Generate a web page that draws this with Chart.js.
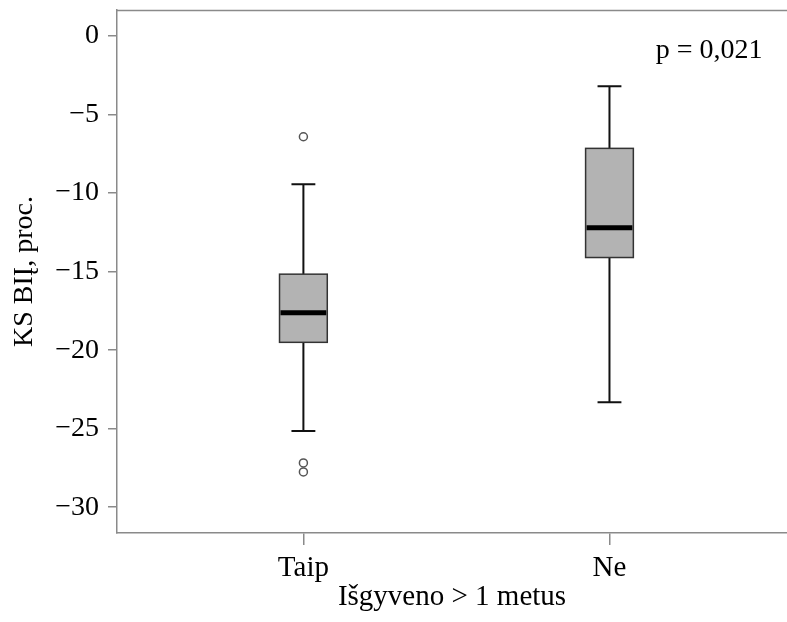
<!DOCTYPE html>
<html>
<head>
<meta charset="utf-8">
<script src="https://cdn.jsdelivr.net/npm/chart.js@4.4.1/dist/chart.umd.min.js"></script>
<style>
  html, body { margin: 0; padding: 0; background: #ffffff; overflow: hidden; }
  #wrap { width: 787px; height: 622px; }
</style>
</head>
<body>
<div id="wrap"><canvas id="c" width="787" height="622"></canvas></div>
<script>
// ---- data ----
const categories = ['Taip', 'Ne'];
const whiskerHigh = [-9.43, -3.2];
const q3 = [-15.16, -7.15];
const median = [-17.62, -12.21];
const q1 = [-19.5, -14.1];
const whiskerLow = [-25.14, -23.31];
const outliersTaip = [-6.41, -27.18, -27.75];
const outliersNe = [];
const yTicks = [0, -5, -10, -15, -20, -25, -30];
const yTitle = 'KS BIĮ, proc.';
const xTitle = 'Išgyveno > 1 metus';
const pLabel = 'p = 0,021';

const FONT = "'Liberation Serif', 'Times New Roman', serif";
Chart.defaults.font.family = FONT;
Chart.defaults.color = '#000';

const outlierPoints = [];
outliersTaip.forEach(v => outlierPoints.push({ x: 1, y: v }));
outliersNe.forEach(v => outlierPoints.push({ x: 2, y: v }));

const boxPlugin = {
  id: 'boxes',
  beforeDatasetsDraw(chart) {
    const { ctx, scales: { x, y }, chartArea } = chart;
    ctx.save();
    // top frame line
    ctx.strokeStyle = '#8a8a8a';
    ctx.lineWidth = 1.5;
    ctx.beginPath();
    ctx.moveTo(chartArea.left, chartArea.top + 0.5);
    ctx.lineTo(chartArea.right, chartArea.top + 0.5);
    ctx.stroke();

    const boxHalf = 0.078, capHalf = 0.039;
    categories.forEach((c, i) => {
      const cx = x.getPixelForValue(i + 1);
      const bl = x.getPixelForValue(i + 1 - boxHalf);
      const br = x.getPixelForValue(i + 1 + boxHalf);
      const cl = x.getPixelForValue(i + 1 - capHalf);
      const cr = x.getPixelForValue(i + 1 + capHalf);
      const yH = y.getPixelForValue(whiskerHigh[i]);
      const yL = y.getPixelForValue(whiskerLow[i]);
      const y3 = y.getPixelForValue(q3[i]);
      const y1 = y.getPixelForValue(q1[i]);
      const ym = y.getPixelForValue(median[i]);
      // whiskers
      ctx.strokeStyle = '#111';
      ctx.lineWidth = 2;
      ctx.beginPath();
      ctx.moveTo(cx, yH); ctx.lineTo(cx, y3);
      ctx.moveTo(cx, y1); ctx.lineTo(cx, yL);
      ctx.moveTo(cl, yH); ctx.lineTo(cr, yH);
      ctx.moveTo(cl, yL); ctx.lineTo(cr, yL);
      ctx.stroke();
      // box
      ctx.fillStyle = '#b3b3b3';
      ctx.fillRect(bl, y3, br - bl, y1 - y3);
      ctx.strokeStyle = '#333';
      ctx.lineWidth = 1.5;
      ctx.strokeRect(bl, y3, br - bl, y1 - y3);
      // median
      ctx.strokeStyle = '#000';
      ctx.lineWidth = 5;
      ctx.beginPath();
      ctx.moveTo(bl + 1, ym); ctx.lineTo(br - 1, ym);
      ctx.stroke();
    });

    // p-value annotation
    ctx.fillStyle = '#000';
    ctx.font = '28px ' + FONT;
    ctx.textAlign = 'right';
    ctx.textBaseline = 'middle';
    ctx.fillText(pLabel, x.getPixelForValue(2.5), y.getPixelForValue(-0.9));
    ctx.restore();
  }
};

new Chart(document.getElementById('c'), {
  type: 'scatter',
  data: {
    datasets: [{
      data: outlierPoints,
      pointRadius: 4,
      pointHoverRadius: 4,
      pointBorderWidth: 1.5,
      borderColor: '#555',
      backgroundColor: '#ffffff'
    }]
  },
  options: {
    responsive: false,
    devicePixelRatio: 1,
    animation: false,
    layout: { autoPadding: false, padding: { top: 10, right: 0, left: 0, bottom: 0 } },
    plugins: { legend: { display: false }, tooltip: { enabled: false } },
    scales: {
      x: {
        type: 'linear',
        min: 0.391,
        max: 2.58,
        afterBuildTicks: s => { s.ticks = categories.map((c, i) => ({ value: i + 1 })); },
        afterFit: s => { s.height = 89; s.paddingLeft = 0; s.paddingRight = 0; },
        ticks: {
          callback: v => categories[Math.round(v) - 1],
          font: { size: 29 },
          color: '#000',
          padding: 6,
          maxRotation: 0,
          autoSkip: false
        },
        grid: { display: true, drawOnChartArea: false, drawTicks: true, tickLength: 12, color: '#8a8a8a', lineWidth: 1.5 },
        border: { display: true, color: '#8a8a8a', width: 1.5 },
        title: { display: true, text: xTitle, font: { size: 29, lineHeight: 1.2 }, color: '#000', padding: { top: 0, bottom: 7 } }
      },
      y: {
        type: 'linear',
        min: -31.64,
        max: 1.66,
        afterBuildTicks: s => { s.ticks = yTicks.map(v => ({ value: v })); },
        afterFit: s => { s.width = 117; s.paddingTop = 0; s.paddingBottom = 0; },
        ticks: {
          callback: v => (v < 0 ? '\u2212' + Math.abs(v) : String(v)),
          font: { size: 28 },
          color: '#000',
          padding: 9
        },
        grid: { display: true, drawOnChartArea: false, drawTicks: true, tickLength: 9, color: '#8a8a8a', lineWidth: 1.5 },
        border: { display: true, color: '#8a8a8a', width: 1.5 },
        title: { display: true, text: yTitle, font: { size: 28, lineHeight: 1.2 }, color: '#000', padding: { top: 8, bottom: 0 } }
      }
    }
  },
  plugins: [boxPlugin]
});
</script>
</body>
</html>
